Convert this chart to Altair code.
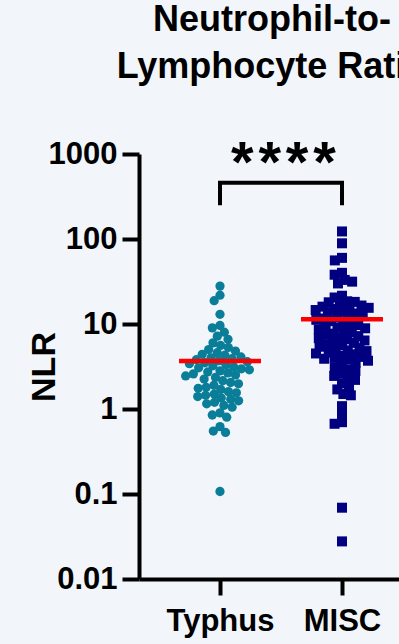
import math
import altair as alt
import pandas as pd

# ---------------- data ----------------
groups = ["Typhus", "MISC"]

typhus = [27.9, 21.8, 18.8, 13.0,
          9.6, 9.0,
          8.0, 7.2, 6.6,
          6.0, 5.6, 5.3, 5.0, 4.8, 4.6,
          4.4, 4.3, 4.1, 4.0, 3.9,
          3.8, 3.7, 3.6,
          3.50, 3.41, 3.31, 3.22, 3.13, 3.05, 2.97, 2.89, 2.81, 2.73, 2.66,
          2.59, 2.52, 2.45,
          2.35, 2.25, 2.15, 2.05, 1.98,
          1.9, 1.8, 1.75, 1.7, 1.6, 1.55, 1.5, 1.45, 1.4, 1.35, 1.3, 1.25,
          1.2, 1.15, 1.1, 1.05,
          0.9, 0.85, 0.8, 0.62, 0.55, 0.53, 0.107]

misc = [122.7, 89, 60, 56, 40, 38, 33, 31.5, 30, 21.5, 20.5, 18.5, 18.2, 18.0, 17.5,
        16.5, 16, 15.5, 15.2, 15, 14.6, 14.2, 13.8, 13.3, 12.8,
        12.4, 12, 11.6, 11.2, 10.8, 10.4, 10, 9.7, 9.4, 9.1, 8.9,
        8.6, 8.3, 8.0, 7.7, 7.5, 7.2, 7.0, 6.8, 6.6, 6.4, 6.2,
        6.0, 5.8, 5.6, 5.4, 5.2, 5.0, 4.9, 4.8, 4.6, 4.5,
        4.4, 4.2, 4.1, 4.0, 3.9, 3.8, 3.7,
        3.5, 3.3, 3.1, 2.9, 2.8,
        2.6, 2.45, 2.3, 2.2,
        2.0, 1.85, 1.7,
        1.5, 1.45,
        1.08, 0.87, 0.70, 0.67, 0.069, 0.0277]

group_means = [3.68, 11.4]          # red lines
y_ticks = [0.01, 0.1, 1, 10, 100, 1000]
bracket_pos = [0, 0, 1, 1]
bracket_val = [250, 459, 459, 250]
stars_label = "*\u200a*\u200a*\u200a*"
stars_val = 578
title_lines = ["Neutrophil-to-", "Lymphocyte Ratio"]

# ---------------- layout constants ----------------
PX_PER_DEC = 85.0
PX_PER_UNIT = 122.0
LEFT, TOP, BOTTOM = 139, 154, 65
W, H = 399 - LEFT, 644 - TOP - BOTTOM
X_MIN = -(220 - LEFT) / PX_PER_UNIT
X_MAX = (399 - 220) / PX_PER_UNIT
SPACING = [8.0, 7.6]  # swarm spacing (px) per group

TEAL = "#0a7e98"
NAVY = "#000080"
RED = "#ff0000"
BG = "#f2f6fa"
FONT = "Liberation Sans"


def swarm(vals, d):
    ys = [math.log10(v) * PX_PER_DEC for v in vals]
    order = sorted(range(len(vals)), key=lambda i: -ys[i])
    placed = []
    xs = [0.0] * len(vals)
    for i in order:
        y = ys[i]
        cands = [0.0]
        for px, py in placed:
            dy = y - py
            if abs(dy) < d:
                dx = math.sqrt(d * d - dy * dy)
                cands += [px + dx, px - dx]
        cands.sort(key=lambda c: (abs(c), c))
        for c in cands:
            if all((c - px) ** 2 + (y - py) ** 2 >= d * d - 1e-6 for px, py in placed):
                xs[i] = c
                break
        placed.append((xs[i], y))
    return xs


rows = []
for gi, (g, vals) in enumerate(zip(groups, [typhus, misc])):
    offs = swarm(vals, SPACING[gi])
    for v, o in zip(vals, offs):
        rows.append({"group": g, "pos": gi + o / PX_PER_UNIT, "value": v})
pts = pd.DataFrame(rows)

means = pd.DataFrame({"group": groups, "idx": [0, 1], "mean": group_means})
bracket = pd.DataFrame({"pos": bracket_pos, "value": bracket_val,
                        "order": list(range(len(bracket_pos)))})
stars = pd.DataFrame({"pos": [0.52], "value": [stars_val], "label": [stars_label]})

xscale = alt.Scale(domain=[X_MIN, X_MAX], nice=False, zero=False)
yscale = alt.Scale(type="log", domain=[0.01, 1000], nice=False)

x_axis = alt.Axis(values=[0, 1],
                  labelExpr="datum.value == 0 ? 'Typhus' : 'MISC'",
                  title=None, grid=False, labelFontSize=31, labelFontWeight="bold",
                  labelFont=FONT, labelColor="black", tickSize=16, tickWidth=4,
                  tickColor="black", domainColor="black", domainWidth=4,
                  labelPadding=11)
y_axis = alt.Axis(values=y_ticks, format="~g", title="NLR", grid=False,
                  labelFontSize=31, labelFontWeight="bold", labelFont=FONT,
                  labelColor="black", tickSize=17, tickWidth=4, tickColor="black",
                  domainColor="black", domainWidth=4, labelPadding=5,
                  titleFontSize=34, titleFont=FONT, titleFontWeight="bold",
                  titleColor="black", titleAngle=270, titleX=44 - LEFT, titleY=H / 2,
                  titleAlign="center", titleBaseline="middle")

points = alt.Chart(pts).mark_point(filled=True, opacity=1, strokeWidth=0).encode(
    x=alt.X("pos:Q", scale=xscale, axis=x_axis),
    y=alt.Y("value:Q", scale=yscale, axis=y_axis),
    shape=alt.Shape("group:N", scale=alt.Scale(domain=groups, range=["circle", "square"]), legend=None),
    color=alt.Color("group:N", scale=alt.Scale(domain=groups, range=[TEAL, NAVY]), legend=None),
    size=alt.Size("group:N", scale=alt.Scale(domain=groups, range=[86, 100]), legend=None),
)

mean_lines = alt.Chart(means).transform_calculate(
    lo="datum.idx - 0.336", hi="datum.idx + 0.336"
).mark_rule(color=RED, strokeWidth=4.5).encode(
    x=alt.X("lo:Q", scale=xscale), x2="hi:Q", y=alt.Y("mean:Q", scale=yscale)
)

bracket_line = alt.Chart(bracket).mark_line(color="black", strokeWidth=4, clip=False).encode(
    x=alt.X("pos:Q", scale=xscale), y=alt.Y("value:Q", scale=yscale), order="order:Q"
)

stars_text = alt.Chart(stars).mark_text(
    font=FONT, fontSize=58, fontWeight="bold", baseline="alphabetic", align="center",
    color="black", dy=8
).encode(x=alt.X("pos:Q", scale=xscale), y=alt.Y("value:Q", scale=yscale), text="label:N")

chart = alt.layer(points, mean_lines, bracket_line, stars_text).properties(
    width=W, height=H,
    autosize=alt.AutoSizeParams(type="none"),
    padding={"left": LEFT, "top": TOP, "right": 0, "bottom": BOTTOM},
    background=BG,
    title=alt.TitleParams(text=title_lines, fontSize=36, font=FONT, fontWeight="bold",
                          color="black", anchor="middle", lineHeight=47,
                          baseline="alphabetic", offset=22, dx=3),
).configure_view(stroke=None)

chart.save("out.html", embed_options={"renderer": "svg", "actions": False})
